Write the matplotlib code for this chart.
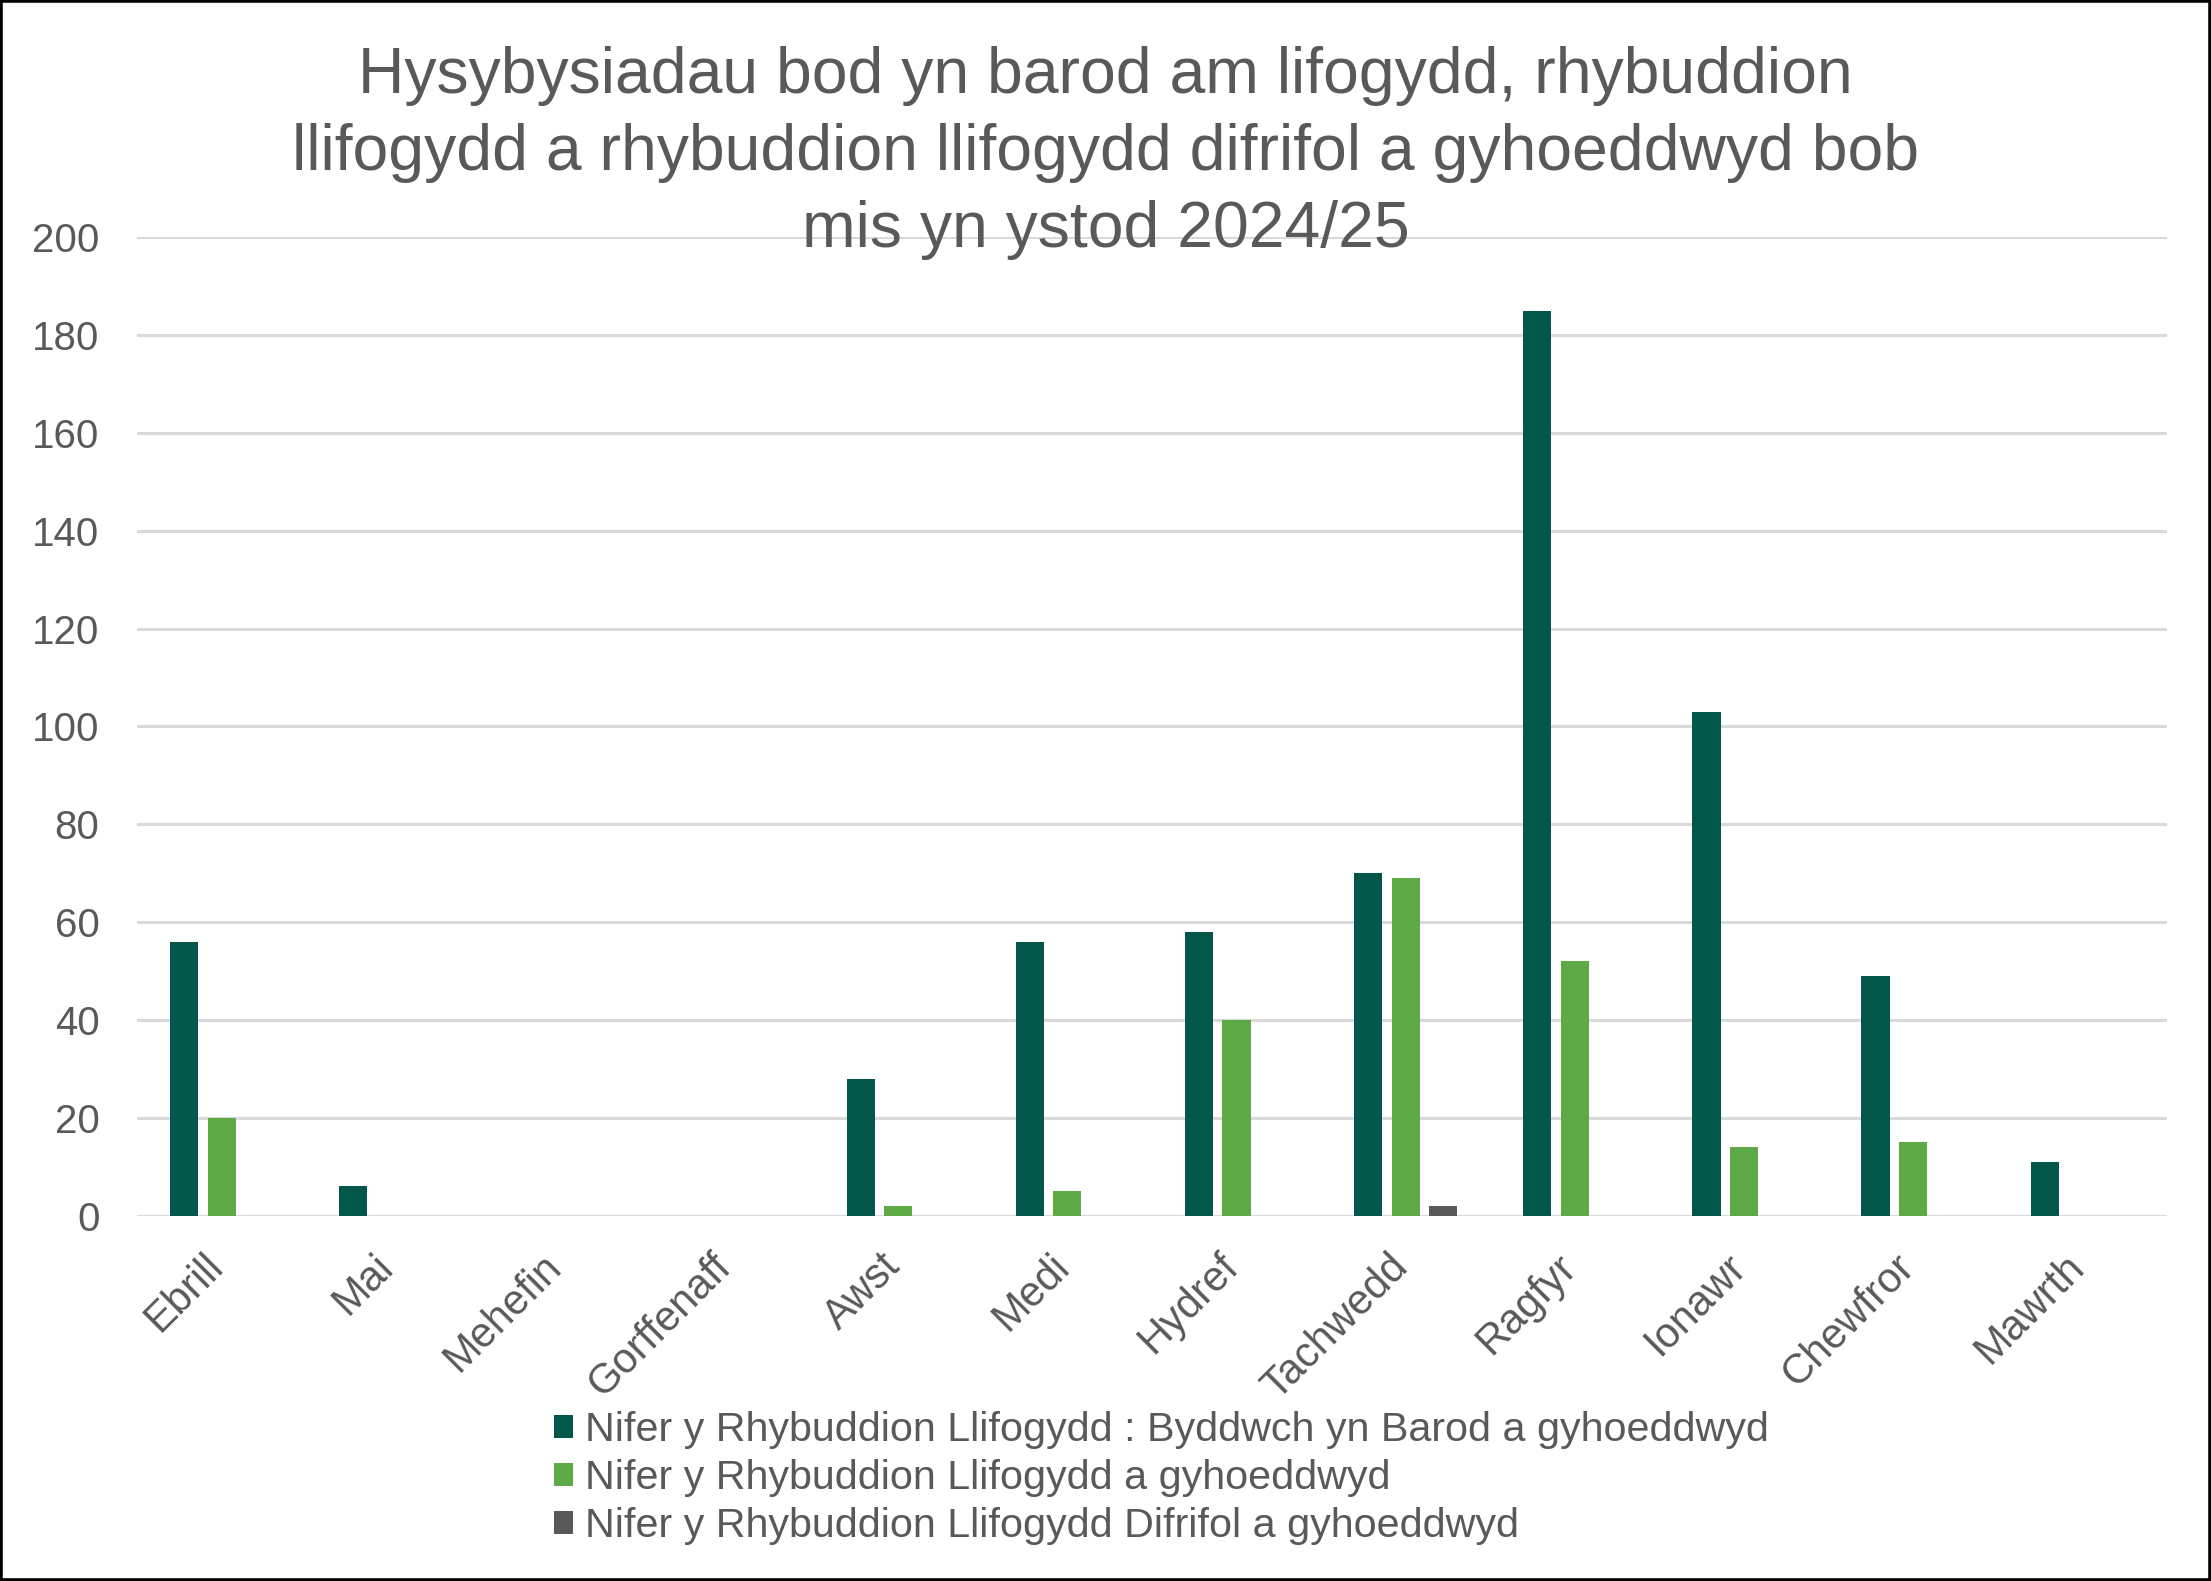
import matplotlib
matplotlib.use("Agg")
import matplotlib.pyplot as plt
import matplotlib.transforms as mtransforms
from matplotlib.patches import Rectangle
import numpy as np

plt.rcParams['font.family'] = ['Liberation Sans', 'DejaVu Sans']

months = ['Ebrill', 'Mai', 'Mehefin', 'Gorffenaff', 'Awst', 'Medi',
          'Hydref', 'Tachwedd', 'Ragfyr', 'Ionawr', 'Chewfror', 'Mawrth']
byddwch_barod = [56, 6, 0, 0, 28, 56, 58, 70, 185, 103, 49, 11]
rhybudd = [20, 0, 0, 0, 2, 5, 40, 69, 52, 14, 15, 0]
difrifol = [0, 0, 0, 0, 0, 0, 0, 2, 0, 0, 0, 0]
labels = ['Nifer y Rhybuddion Llifogydd : Byddwch yn Barod a gyhoeddwyd',
          'Nifer y Rhybuddion Llifogydd a gyhoeddwyd',
          'Nifer y Rhybuddion Llifogydd Difrifol a gyhoeddwyd']
title = ('Hysybysiadau bod yn barod am lifogydd, rhybuddion\n'
         'llifogydd a rhybuddion llifogydd difrifol a gyhoeddwyd bob\n'
         'mis yn ystod 2024/25')

txt = '#595959'
cols = ['#03574A', '#5DAA46', '#595959']

fig = plt.figure(figsize=(22.11, 15.81), dpi=100)
ax = fig.add_axes([0.062, 0.231, 0.918, 0.619])

x = np.arange(len(months))
w = 0.167
step = 0.222
for i, (vals, c, lab) in enumerate(zip([byddwch_barod, rhybudd, difrifol], cols, labels)):
    ax.bar(x + (i - 1) * step, vals, width=w, color=c, label=lab, zorder=3)

ax.set_xlim(-0.5, len(months) - 0.5)
ax.set_ylim(0, 200)
ax.set_yticks(range(0, 201, 20))
ax.grid(axis='y', color='#D9D9D9', linewidth=2.2, zorder=0)
for s in ax.spines.values():
    s.set_visible(False)
ax.tick_params(axis='y', length=0, pad=27, labelsize=29, labelcolor=txt)
ax.tick_params(axis='x', length=0, pad=22, labelsize=30, labelcolor=txt)
ax.set_xticks(x)
ax.set_xticklabels(months, rotation=45, ha='right')
off = mtransforms.ScaledTranslation(10 / 100, 0, fig.dpi_scale_trans)
for t in ax.get_xticklabels():
    t.set_transform(t.get_transform() + off)

fig.text(0.5, 0.903, title, ha='center', va='center', fontsize=46.3,
         color=txt, linespacing=1.36)

leg = fig.legend(loc='center', bbox_to_anchor=(0.5255, 0.065), frameon=False,
                 fontsize=29.7, handlelength=0.45, handleheight=0.5,
                 handletextpad=0.3, labelspacing=0.24, borderpad=0)
for t in leg.get_texts():
    t.set_color(txt)

fig.patches.append(Rectangle((0, 0), 1, 1, transform=fig.transFigure,
                             fill=False, edgecolor='black', linewidth=4))

fig.savefig('out.png', dpi=100, facecolor='white')
